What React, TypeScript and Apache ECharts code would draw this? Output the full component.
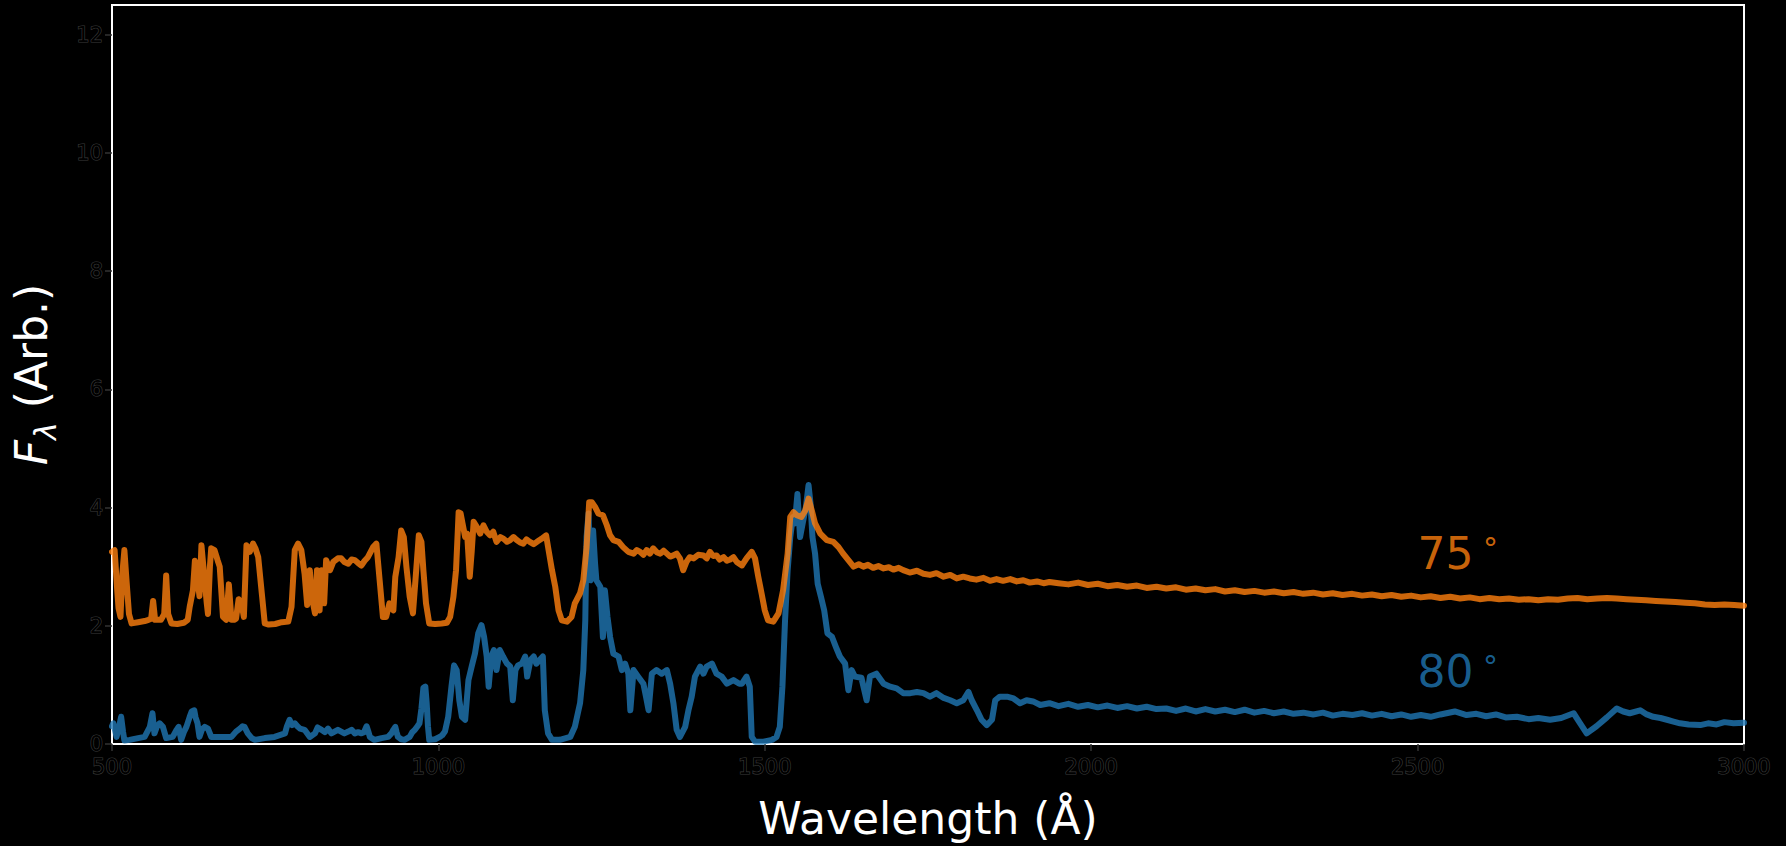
import React, { useEffect, useRef } from "react";
import * as echarts from "echarts";

// Wavelength (Å) / flux (arb.) pairs
const spectrum80: [number, number][] = [
  [500,0.3],[502,0.35],[507,0.12],[511,0.3],[514,0.46],[517,0.2],[519,0.06],[527,0.07],[540,0.1],[550,0.12],
  [558,0.29],[562,0.52],[565,0.18],[569,0.3],[573,0.35],[578,0.29],[583,0.1],[593,0.12],[599,0.24],[602,0.29],
  [606,0.07],[610,0.2],[614,0.29],[619,0.46],[622,0.55],[626,0.57],[628,0.45],[631,0.35],[634,0.12],[638,0.25],
  [642,0.29],[647,0.26],[652,0.12],[662,0.12],[673,0.12],[683,0.12],[690,0.21],[696,0.26],[700,0.3],[703,0.29],
  [708,0.18],[714,0.1],[719,0.07],[734,0.1],[749,0.12],[765,0.18],[768,0.3],[772,0.41],[776,0.32],[780,0.35],
  [784,0.3],[788,0.26],[795,0.24],[803,0.12],[811,0.18],[815,0.28],[821,0.24],[826,0.2],[831,0.26],[836,0.18],
  [841,0.21],[846,0.24],[851,0.21],[856,0.18],[862,0.21],[867,0.24],[872,0.18],[877,0.2],[882,0.18],[886,0.2],
  [890,0.3],[893,0.2],[895,0.12],[902,0.07],[913,0.1],[923,0.12],[928,0.18],[931,0.24],[934,0.29],[936,0.2],
  [938,0.12],[943,0.08],[948,0.07],[956,0.12],[960,0.2],[964,0.24],[968,0.3],[971,0.35],[974,0.6],[977,0.95],
  [980,0.97],[982,0.7],[984,0.3],[986,0.07],[995,0.08],[1002,0.12],[1006,0.15],[1010,0.21],[1015,0.46],[1020,0.97],
  [1024,1.33],[1028,1.25],[1032,0.74],[1036,0.46],[1041,0.41],[1046,1.08],[1051,1.31],[1056,1.53],[1061,1.87],[1066,2.01],
  [1070,1.81],[1074,1.48],[1077,0.97],[1081,1.48],[1085,1.59],[1089,1.25],[1094,1.59],[1099,1.48],[1105,1.36],[1110,1.31],
  [1114,0.74],[1118,1.25],[1122,1.33],[1128,1.36],[1133,1.48],[1136,1.14],[1141,1.42],[1146,1.48],[1150,1.36],[1155,1.42],
  [1160,1.48],[1163,0.57],[1168,0.18],[1174,0.07],[1186,0.07],[1202,0.12],[1209,0.29],[1217,0.69],[1222,1.25],[1225,2.09],
  [1227,3.5],[1230,3.9],[1233,2.77],[1237,3.61],[1240,3.05],[1242,2.77],[1248,2.66],[1252,1.81],[1255,2.6],[1259,2.15],
  [1263,1.81],[1268,1.53],[1276,1.48],[1281,1.25],[1286,1.36],[1291,1.19],[1294,0.57],[1299,1.25],[1306,1.14],[1314,1.02],
  [1318,0.8],[1322,0.57],[1327,1.19],[1334,1.25],[1342,1.19],[1350,1.25],[1355,1.02],[1360,0.69],[1365,0.24],[1370,0.12],
  [1378,0.29],[1383,0.57],[1388,0.8],[1393,1.14],[1401,1.31],[1406,1.19],[1411,1.31],[1419,1.36],[1426,1.19],[1434,1.14],
  [1442,1.02],[1452,1.08],[1461,1.02],[1465,1.02],[1472,1.14],[1477,0.97],[1480,0.12],[1485,0.04],[1498,0.04],[1511,0.07],
  [1518,0.12],[1523,0.29],[1527,0.97],[1531,2.09],[1535,2.94],[1539,3.5],[1543,3.84],[1546,3.73],[1550,4.23],[1554,3.5],
  [1558,3.73],[1563,4.01],[1567,4.38],[1570,4.07],[1573,3.5],[1577,3.22],[1581,2.71],[1586,2.49],[1591,2.26],[1596,1.87],
  [1603,1.81],[1609,1.64],[1615,1.48],[1623,1.36],[1628,0.91],[1633,1.25],[1638,1.14],[1648,1.12],[1656,0.74],[1661,1.14],
  [1671,1.19],[1682,1.02],[1692,0.97],[1702,0.94],[1712,0.86],[1723,0.86],[1733,0.88],[1743,0.86],[1753,0.8],[1763,0.86],
  [1774,0.78],[1784,0.74],[1794,0.69],[1804,0.74],[1812,0.88],[1817,0.74],[1825,0.57],[1832,0.41],[1840,0.32],[1848,0.41],
  [1853,0.74],[1860,0.8],[1871,0.8],[1881,0.77],[1891,0.69],[1901,0.74],[1911,0.72],[1922,0.66],[1936,0.69],[1950,0.64],
  [1965,0.68],[1980,0.63],[1995,0.66],[2010,0.62],[2025,0.65],[2040,0.61],[2055,0.64],[2070,0.6],[2085,0.63],[2100,0.59],
  [2115,0.6],[2130,0.56],[2145,0.6],[2160,0.55],[2175,0.59],[2190,0.55],[2205,0.58],[2220,0.54],[2235,0.58],[2250,0.53],
  [2265,0.56],[2280,0.52],[2295,0.55],[2310,0.51],[2325,0.53],[2340,0.5],[2355,0.53],[2370,0.48],[2385,0.51],[2400,0.49],
  [2415,0.52],[2430,0.48],[2445,0.51],[2460,0.47],[2475,0.5],[2490,0.46],[2505,0.49],[2520,0.46],[2535,0.5],[2557,0.55],
  [2575,0.49],[2590,0.51],[2605,0.47],[2620,0.5],[2635,0.45],[2652,0.46],[2670,0.42],[2685,0.44],[2703,0.41],[2720,0.44],
  [2739,0.52],[2749,0.35],[2759,0.18],[2774,0.3],[2790,0.45],[2805,0.6],[2815,0.55],[2825,0.52],[2841,0.57],[2851,0.5],
  [2861,0.46],[2872,0.44],[2882,0.41],[2892,0.38],[2902,0.35],[2915,0.33],[2933,0.32],[2945,0.35],[2958,0.33],[2970,0.37],
  [2984,0.35],[3000,0.36]
];

const spectrum75: [number, number][] = [
  [500,3.25],[504,3.28],[508,2.6],[510,2.3],[513,2.15],[516,2.9],[519,3.28],[522,2.8],[526,2.2],[530,2.04],
  [540,2.06],[550,2.08],[556,2.1],[560,2.12],[563,2.42],[566,2.1],[575,2.1],[580,2.2],[583,2.85],[586,2.2],
  [591,2.04],[600,2.03],[610,2.05],[616,2.1],[619,2.32],[624,2.6],[627,3.1],[631,2.8],[634,2.5],[637,3.36],
  [640,3.0],[642,2.77],[645,2.4],[647,2.2],[650,3.0],[652,3.31],[657,3.28],[662,3.1],[665,3.0],[668,2.5],
  [670,2.15],[675,2.1],[679,2.7],[683,2.1],[687,2.1],[690,2.12],[694,2.45],[698,2.4],[702,2.15],[706,3.36],
  [711,3.25],[716,3.39],[720,3.3],[724,3.16],[730,2.49],[734,2.04],[740,2.02],[750,2.03],[760,2.06],[770,2.07],
  [775,2.32],[780,3.28],[785,3.39],[790,3.28],[795,2.88],[799,2.35],[803,2.94],[806,2.49],[811,2.21],[814,2.94],
  [818,2.26],[821,2.94],[825,2.38],[828,3.11],[834,2.94],[839,3.08],[846,3.14],[851,3.14],[856,3.08],[862,3.05],
  [867,3.12],[872,3.11],[877,3.06],[882,3.02],[887,3.1],[892,3.16],[900,3.33],[905,3.39],[910,2.77],[915,2.15],
  [920,2.15],[925,2.38],[931,2.26],[934,2.83],[939,3.16],[943,3.61],[947,3.5],[951,3.0],[956,2.49],[961,2.21],
  [966,2.94],[970,3.53],[974,3.42],[977,2.94],[981,2.38],[986,2.04],[995,2.03],[1005,2.04],[1013,2.05],[1018,2.15],
  [1023,2.49],[1027,2.94],[1031,3.92],[1034,3.9],[1037,3.73],[1041,3.5],[1044,3.56],[1048,2.83],[1051,3.25],[1054,3.76],
  [1059,3.67],[1064,3.56],[1069,3.7],[1074,3.59],[1079,3.53],[1084,3.59],[1089,3.42],[1095,3.5],[1100,3.47],[1105,3.42],
  [1110,3.45],[1115,3.5],[1120,3.45],[1125,3.41],[1130,3.39],[1135,3.46],[1140,3.42],[1146,3.38],[1151,3.42],[1158,3.47],
  [1165,3.53],[1168,3.33],[1174,2.94],[1179,2.66],[1184,2.26],[1189,2.09],[1197,2.07],[1204,2.15],[1209,2.38],[1217,2.55],
  [1222,2.77],[1227,3.33],[1231,4.09],[1235,4.09],[1240,4.01],[1245,3.9],[1252,3.87],[1258,3.7],[1263,3.53],[1268,3.45],
  [1276,3.42],[1283,3.33],[1291,3.25],[1299,3.22],[1304,3.28],[1309,3.25],[1314,3.2],[1319,3.28],[1324,3.22],[1329,3.31],
  [1335,3.24],[1340,3.22],[1345,3.27],[1350,3.22],[1355,3.17],[1360,3.19],[1365,3.22],[1370,3.14],[1375,2.94],[1380,3.08],
  [1385,3.16],[1391,3.14],[1398,3.2],[1406,3.19],[1411,3.14],[1416,3.25],[1421,3.18],[1426,3.19],[1431,3.12],[1437,3.16],
  [1442,3.1],[1447,3.12],[1452,3.16],[1457,3.08],[1465,3.02],[1472,3.14],[1480,3.25],[1485,3.14],[1490,2.83],[1495,2.55],
  [1500,2.26],[1505,2.09],[1513,2.07],[1521,2.21],[1528,2.6],[1535,3.22],[1539,3.84],[1544,3.92],[1549,3.87],[1556,3.84],
  [1562,3.95],[1567,4.15],[1572,3.95],[1577,3.73],[1585,3.56],[1595,3.45],[1605,3.42],[1613,3.33],[1620,3.22],[1628,3.11],
  [1636,3.0],[1644,3.04],[1651,3.0],[1658,3.03],[1666,2.98],[1674,3.01],[1682,2.97],[1690,2.99],[1697,2.95],[1705,2.98],
  [1712,2.94],[1722,2.9],[1733,2.93],[1743,2.88],[1753,2.86],[1763,2.89],[1774,2.83],[1784,2.86],[1794,2.8],[1804,2.83],
  [1814,2.8],[1824,2.78],[1835,2.81],[1845,2.76],[1855,2.79],[1865,2.76],[1876,2.79],[1886,2.75],[1896,2.77],[1906,2.73],
  [1917,2.75],[1927,2.72],[1936,2.74],[1950,2.72],[1965,2.7],[1980,2.73],[1995,2.69],[2010,2.71],[2025,2.67],[2040,2.69],
  [2055,2.66],[2070,2.68],[2085,2.64],[2100,2.66],[2115,2.63],[2130,2.65],[2145,2.61],[2160,2.63],[2175,2.6],[2190,2.62],
  [2205,2.58],[2220,2.6],[2235,2.57],[2250,2.59],[2265,2.56],[2280,2.58],[2295,2.55],[2310,2.57],[2325,2.54],[2340,2.56],
  [2355,2.53],[2370,2.55],[2385,2.52],[2400,2.54],[2415,2.51],[2430,2.53],[2445,2.5],[2460,2.52],[2475,2.49],[2490,2.51],
  [2505,2.48],[2520,2.5],[2535,2.47],[2550,2.49],[2565,2.46],[2580,2.48],[2595,2.45],[2610,2.47],[2625,2.45],[2640,2.46],
  [2655,2.44],[2670,2.45],[2685,2.43],[2700,2.45],[2715,2.44],[2730,2.46],[2745,2.47],[2760,2.45],[2775,2.46],[2790,2.47],
  [2805,2.46],[2820,2.45],[2835,2.44],[2850,2.43],[2865,2.42],[2880,2.41],[2895,2.4],[2910,2.39],[2925,2.38],[2940,2.36],
  [2955,2.35],[2970,2.36],[2985,2.35],[3000,2.34]
];

const seriesNames = ["80 °", "75 °"];
const annotationNumbers = ["80", "75"];
const annotationPoints: [number, number][] = [[2500, 1.0], [2500, 3.0]];
const xTicks = [500, 1000, 1500, 2000, 2500, 3000];
const yTicks = [0, 2, 4, 6, 8, 10, 12];

const FONT = "DejaVu Sans";
const BLUE_LINE = "rgba(31,119,180,0.8)";
const ORANGE_LINE = "rgba(255,127,14,0.8)";

export default function App() {
  const ref = useRef<HTMLDivElement>(null);
  useEffect(() => {
    if (!ref.current) return;
    const chart = echarts.init(ref.current, null, { renderer: "svg" });
    const tickLabel = {
      color: "#000",
      textBorderColor: "#3a3a3a",
      textBorderWidth: 1.2,
      fontFamily: FONT,
      fontSize: 21,
      formatter: (v: number) => String(v),
    };
    const labelSeries = (i: number, color: string) => ({
      type: "scatter",
      data: [annotationPoints[i]],
      symbolSize: 0,
      silent: true,
      z: 5,
      label: {
        show: true,
        position: [0, 0],
        align: "left",
        verticalAlign: "bottom",
        offset: [0, 9],
        formatter: () => `{n|${annotationNumbers[i]}}{sp| }{d|°}`,
        rich: {
          n: { fontFamily: FONT, fontSize: 44, color, lineHeight: 44 },
          sp: { fontFamily: FONT, fontSize: 30, color, lineHeight: 44 },
          d: { fontFamily: FONT, fontSize: 30, color, lineHeight: 44, verticalAlign: "bottom", padding: [0, 0, 12, 0] },
        },
      },
    });
    chart.setOption({
      animation: false,
      backgroundColor: "#000",
      grid: {
        left: 112,
        right: 42,
        top: 5,
        bottom: 102,
        show: true,
        borderColor: "#ffffff",
        borderWidth: 2,
        backgroundColor: "#000",
      },
      xAxis: {
        type: "value",
        min: 500,
        max: 3000,
        interval: 500,
        name: "Wavelength (Å)",
        nameLocation: "middle",
        nameGap: 52,
        nameTextStyle: { color: "#fff", fontFamily: FONT, fontSize: 44 },
        axisLine: { show: false },
        splitLine: { show: false },
        axisTick: { show: true, length: 7, lineStyle: { color: "#333", width: 1.5 }, customValues: xTicks },
        axisLabel: { ...tickLabel, margin: 12, customValues: xTicks },
      },
      yAxis: {
        type: "value",
        min: 0,
        max: 12.5,
        name: "{f|F}{s|λ}{r| (Arb.)}",
        nameLocation: "middle",
        nameRotate: 90,
        nameGap: 56,
        nameTextStyle: {
          color: "#fff",
          fontFamily: FONT,
          fontSize: 44,
          rich: {
            f: { fontFamily: FONT, fontSize: 44, fontStyle: "italic", color: "#fff", lineHeight: 50 },
            s: { fontFamily: FONT, fontSize: 30, fontStyle: "italic", color: "#fff", lineHeight: 50, verticalAlign: "bottom", padding: [0, 0, -4, 0] },
            r: { fontFamily: FONT, fontSize: 44, color: "#fff", lineHeight: 50 },
          },
        },
        axisLine: { show: false },
        splitLine: { show: false },
        axisTick: { show: true, length: 7, lineStyle: { color: "#333", width: 1.5 }, customValues: yTicks },
        axisLabel: { ...tickLabel, margin: 9, customValues: yTicks },
      },
      series: [
        {
          name: seriesNames[0],
          type: "line",
          data: spectrum80,
          showSymbol: false,
          silent: true,
          lineStyle: { color: BLUE_LINE, width: 6, cap: "round", join: "round" },
          z: 2,
        },
        {
          name: seriesNames[1],
          type: "line",
          data: spectrum75,
          showSymbol: false,
          silent: true,
          lineStyle: { color: ORANGE_LINE, width: 6, cap: "round", join: "round" },
          z: 3,
        },
        labelSeries(0, "#1f77b4"),
        labelSeries(1, "#ff7f0e"),
      ],
    });
    return () => chart.dispose();
  }, []);
  return (
    <div
      ref={ref}
      style={{ position: "fixed", left: 0, top: 0, width: 1786, height: 846, background: "#000" }}
    />
  );
}
